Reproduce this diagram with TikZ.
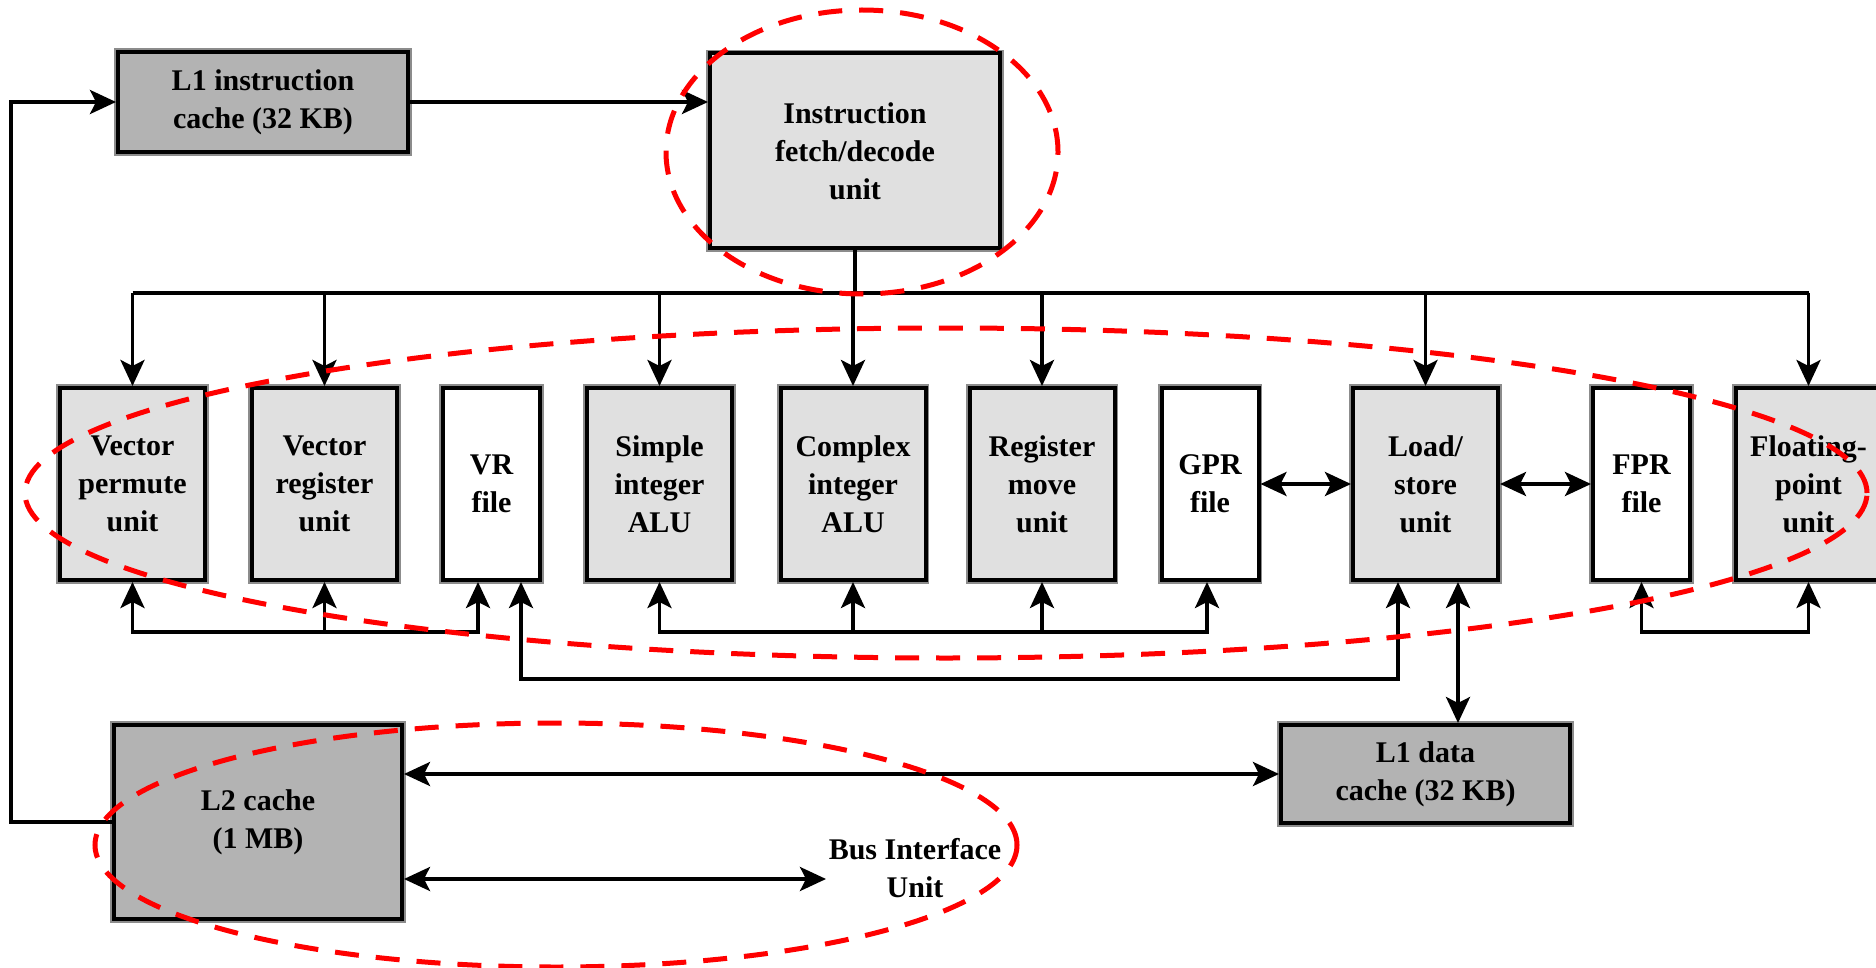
\documentclass[tikz,border=0pt]{standalone}
\usepackage{fontspec}
\setmainfont{Liberation Serif}
\usetikzlibrary{arrows.meta,calc}
\definecolor{unitgray}{HTML}{E0E0E0}
\definecolor{cachegray}{HTML}{B3B3B3}
\definecolor{rimgray}{HTML}{8C8C8C}
\newcommand\blockfont{\fontsize{30}{38}\selectfont\bfseries}
\begin{document}
\begin{tikzpicture}[x=1pt,y=-1pt,
  block/.style={draw=black, line width=4pt, inner sep=0pt, align=center,
    font=\blockfont, preaction={draw=rimgray, line width=7.5pt}},
  unit/.style={block, fill=unitgray, minimum width=145pt, minimum height=192pt},
  regfile/.style={block, fill=white, minimum width=97pt, minimum height=192pt},
  cache/.style={block, fill=cachegray, minimum width=290pt, minimum height=100pt},
  label/.style={align=center, font=\blockfont, inner sep=0pt},
  link/.style={line width=3.6pt, black},
  tip/.tip={Stealth[length=26pt,width=24pt,inset=6pt]},
  arr/.style={link, -tip},
  darr/.style={link, tip-tip},
  ring/.style={draw=red, line width=5pt, dash pattern=on 24pt off 17pt}]

\fill[white] (0,0) rectangle (1876,968);
\useasboundingbox (0,0) rectangle (1876,968);

% front end
\node[cache] (l1i) at (263,102) {L1 instruction\\cache (32 KB)};
\node[unit, minimum width=290pt, minimum height=195pt] (ifu) at (855,151)
  {Instruction\\fetch/decode\\unit};

% execution units and register files
\node[unit]    (vpu) at (132.5,484)  {Vector\\permute\\unit};
\node[unit]    (vru) at (324.5,484)  {Vector\\register\\unit};
\node[regfile] (vrf) at (491.5,484)  {VR\\file};
\node[unit]    (sia) at (659.5,484)  {Simple\\integer\\ALU};
\node[unit]    (cia) at (853,484)    {Complex\\integer\\ALU};
\node[unit]    (rmu) at (1042,484)   {Register\\move\\unit};
\node[regfile] (gpr) at (1210,484)   {GPR\\file};
\node[unit]    (lsu) at (1425.5,484) {Load/\\store\\unit};
\node[regfile] (fpr) at (1641.5,484) {FPR\\file};
\node[unit]    (fpu) at (1808.5,484) {Floating-\\point\\unit};

% memory side
\node[cache, minimum width=288pt, minimum height=194pt] (l2) at (258,822) {L2 cache\\(1 MB)};
\node[cache, minimum width=289pt, minimum height=98pt] (l1d) at (1425.5,774) {L1 data\\cache (32 KB)};
\node[label] (biu) at (915,868) {Bus Interface\\Unit};

% helper points
\coordinate (fb)   at (11,102);
\coordinate (bus)  at (855,293);
\coordinate (ya)   at (0,632);
\coordinate (yb)   at (0,679);
\coordinate (vrfA) at ([xshift=-13.5pt]vrf.south);
\coordinate (vrfB) at ([xshift=29.5pt]vrf.south);
\coordinate (lsuA) at ([xshift=-27.5pt]lsu.south);
\coordinate (lsuB) at ([xshift=32.5pt]lsu.south);
\coordinate (biuEnd) at (826,879);

% instruction path
\draw[arr] (l2.west) -| (fb) -- (l1i.west);
\draw[arr] (l1i.east) -- (l1i.east -| ifu.west);

% dispatch bus
\draw[link] (ifu.south) -- (ifu.south |- bus);
\draw[link] (vpu.north |- bus) -- (fpu.north |- bus);
\foreach \n in {vpu,vru,sia,cia,rmu,lsu,fpu}
  \draw[arr] (\n.north |- bus) -- (\n.north);

% register file buses
\draw[darr] (vpu.south) |- (vrfA |- ya) -- (vrfA);
\draw[arr] (vru.south |- ya) -- (vru.south);
\draw[darr] (vrfB) |- (lsuA |- yb) -- (lsuA);
\draw[darr] (sia.south) |- ([xshift=-3pt]gpr.south |- ya) -- ([xshift=-3pt]gpr.south);
\draw[arr] (cia.south |- ya) -- (cia.south);
\draw[arr] (rmu.south |- ya) -- (rmu.south);
\draw[darr] (fpr.south) |- (fpu.south |- ya) -- (fpu.south);
\draw[darr] (gpr.east) -- (lsu.west);
\draw[darr] (lsu.east) -- (fpr.west);

% data path
\draw[darr] (lsuB) -- (lsuB |- l1d.north);
\draw[darr] (l1d.west -| l2.east) -- (l1d.west);
\draw[darr] (biuEnd -| l2.east) -- (biuEnd);

% highlighted regions
\draw[ring] (862,152) ellipse [x radius=196pt, y radius=142pt];
\draw[ring] (946,493) ellipse [x radius=921pt, y radius=165pt];
\draw[ring] (556,845) ellipse [x radius=461pt, y radius=122pt];
\end{tikzpicture}
\end{document}
